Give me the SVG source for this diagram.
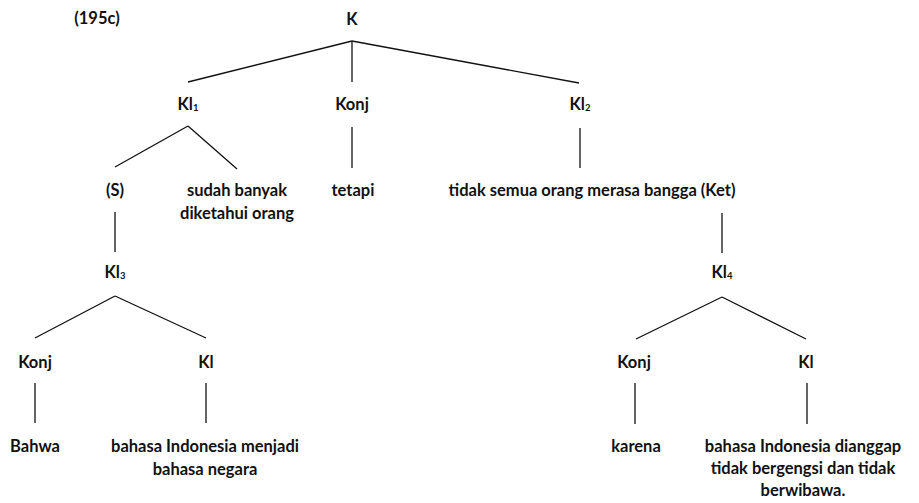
<svg xmlns="http://www.w3.org/2000/svg" width="919" height="503" viewBox="0 0 919 503">
<style>
text{font-family:Lato,"Open Sans","Liberation Sans",sans-serif;font-weight:700;font-size:16.5px;fill:#111;text-anchor:middle}
.sub{font-size:9.5px}
line{stroke:#111;stroke-width:1.3;fill:none}
</style>
<rect width="919" height="503" fill="#fff"/>
<g id="connectors">
<line x1="352" y1="41" x2="188" y2="82"/>
<line x1="352" y1="41" x2="352" y2="82"/>
<line x1="352" y1="41" x2="579" y2="83"/>
<line x1="188" y1="126" x2="115" y2="167"/>
<line x1="188" y1="126" x2="237" y2="169"/>
<line x1="352" y1="127" x2="352" y2="168"/>
<line x1="580" y1="128" x2="580" y2="168"/>
<line x1="115" y1="212" x2="115" y2="252"/>
<line x1="722" y1="213" x2="722" y2="253"/>
<line x1="115" y1="296" x2="35" y2="338"/>
<line x1="115" y1="296" x2="206" y2="338"/>
<line x1="722" y1="297" x2="636" y2="339"/>
<line x1="722" y1="297" x2="806" y2="339"/>
<line x1="35" y1="383" x2="35" y2="423"/>
<line x1="206" y1="383" x2="206" y2="423"/>
<line x1="635" y1="383" x2="635" y2="424"/>
<line x1="807" y1="383" x2="807" y2="424"/>
</g>
<g id="label"><text x="97" y="24">(195c)</text></g>
<g id="K"><text x="352" y="25">K</text></g>
<g id="Kl1"><text x="188" y="110">Kl<tspan class="sub" dy="1">1</tspan></text></g>
<g id="Konj1"><text x="352" y="110">Konj</text></g>
<g id="Kl2"><text x="580" y="110">Kl<tspan class="sub" dy="1">2</tspan></text></g>
<g id="S"><text x="115" y="196">(S)</text></g>
<g id="sudah"><text x="237" y="196">sudah banyak</text><text x="237" y="219">diketahui orang</text></g>
<g id="tetapi"><text x="353" y="196">tetapi</text></g>
<g id="tidak"><text x="592" y="196">tidak semua orang merasa bangga (Ket)</text></g>
<g id="Kl3"><text x="115" y="278">Kl<tspan class="sub" dy="1">3</tspan></text></g>
<g id="Kl4"><text x="722" y="278">Kl<tspan class="sub" dy="1">4</tspan></text></g>
<g id="Konj2"><text x="35" y="368">Konj</text></g>
<g id="Kl5"><text x="206" y="368">Kl</text></g>
<g id="Konj3"><text x="634" y="368">Konj</text></g>
<g id="Kl6"><text x="806" y="368">Kl</text></g>
<g id="Bahwa"><text x="35" y="452">Bahwa</text></g>
<g id="menjadi"><text x="205" y="452">bahasa Indonesia menjadi</text><text x="205" y="475">bahasa negara</text></g>
<g id="karena"><text x="636" y="452">karena</text></g>
<g id="dianggap"><text x="803" y="452">bahasa Indonesia dianggap</text><text x="803" y="474">tidak bergengsi dan tidak</text><text x="803" y="496">berwibawa.</text></g>
</svg>
